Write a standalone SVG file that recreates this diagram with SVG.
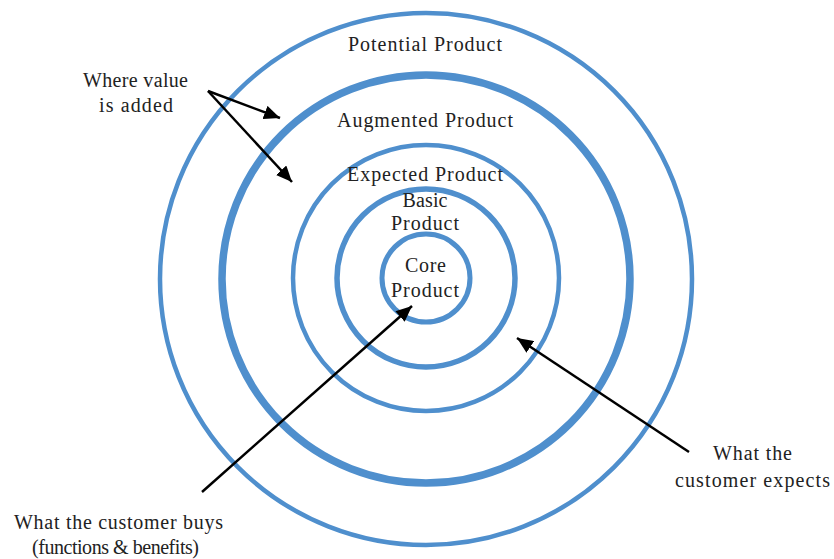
<svg xmlns="http://www.w3.org/2000/svg" width="834" height="559" viewBox="0 0 834 559">
<defs>
<style>
.ring{fill:none;stroke:#4F8FCD}
.lbl{font-family:"Liberation Serif","Times New Roman",serif;font-size:20px;fill:#222;text-anchor:middle}
.arr{stroke:#000;stroke-width:2.5;fill:none;marker-end:url(#ah)}
</style>
<marker id="ah" markerUnits="userSpaceOnUse" markerWidth="16" markerHeight="14" refX="16" refY="7" orient="auto">
<path d="M0,0 L16,7 L0,14 Z" fill="#000"/>
</marker>
</defs>
<rect width="834" height="559" fill="#fff"/>
<g id="potential">
<circle class="ring" cx="426" cy="279" r="266" stroke-width="4.5"/>
<text class="lbl" x="425" y="51" textLength="154">Potential Product</text>
</g>
<g id="augmented">
<circle class="ring" cx="426" cy="279" r="204" stroke-width="7.5"/>
<text class="lbl" x="425" y="127" textLength="176">Augmented Product</text>
</g>
<g id="expected">
<circle class="ring" cx="426" cy="278" r="133" stroke-width="4.5"/>
<text class="lbl" x="425" y="181" textLength="156">Expected Product</text>
</g>
<g id="basic">
<circle class="ring" cx="426" cy="278" r="89" stroke-width="5.5"/>
<text class="lbl" x="425" y="207" textLength="45">Basic</text>
<text class="lbl" x="425" y="230" textLength="68">Product</text>
</g>
<g id="core">
<circle class="ring" cx="426" cy="278" r="44" stroke-width="5"/>
<text class="lbl" x="425.5" y="272" textLength="41">Core</text>
<text class="lbl" x="425" y="297" textLength="68">Product</text>
</g>
<g id="where-value">
<text class="lbl" x="135.5" y="87" textLength="105">Where value</text>
<text class="lbl" x="136" y="112" textLength="74">is added</text>
</g>
<g id="customer-buys">
<text class="lbl" x="118.5" y="529" textLength="209">What the customer buys</text>
<text class="lbl" x="115.5" y="554" textLength="167">(functions &amp; benefits)</text>
</g>
<g id="customer-expects">
<text class="lbl" x="752.5" y="460" textLength="79">What the</text>
<text class="lbl" x="752.5" y="487" textLength="155">customer expects</text>
</g>
<g id="connectors">
<line class="arr" x1="208" y1="91" x2="280" y2="118"/>
<line class="arr" x1="208" y1="91" x2="292" y2="182"/>
<line class="arr" x1="202" y1="492" x2="412" y2="306"/>
<line class="arr" x1="689" y1="452" x2="517" y2="338"/>
</g>
</svg>
